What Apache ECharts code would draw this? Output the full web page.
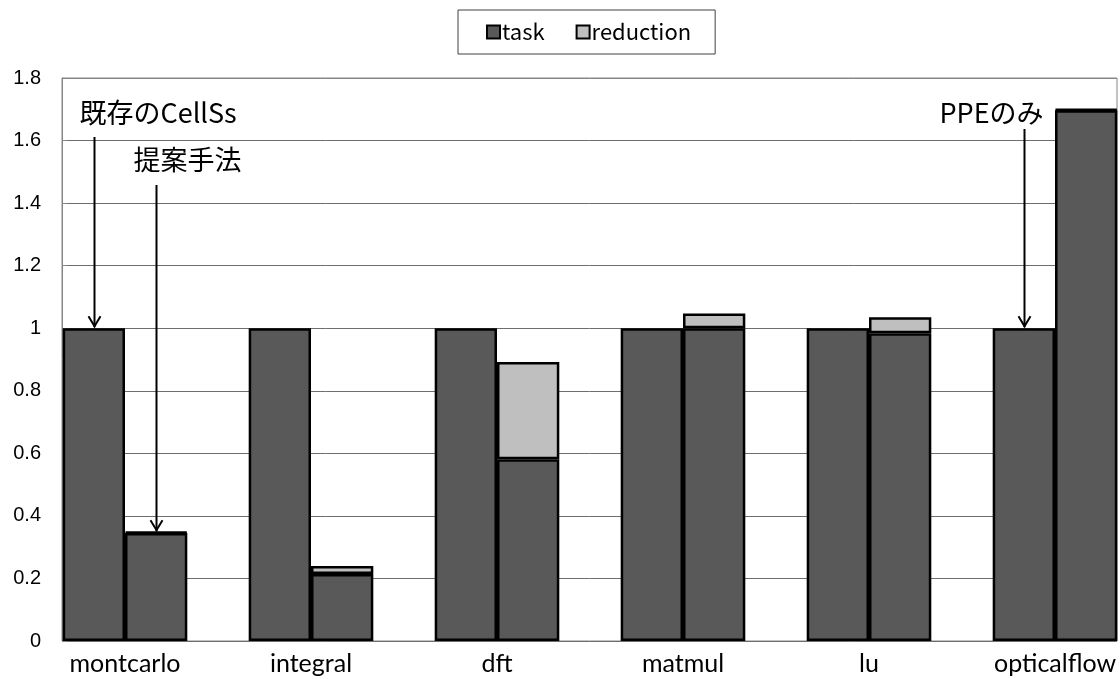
<!DOCTYPE html>
<html>
<head>
<meta charset="utf-8">
<script src="https://cdn.jsdelivr.net/npm/echarts@6/dist/echarts.min.js"></script>
<style>
html,body{margin:0;padding:0;background:#fff;}
#chart{width:1120px;height:679px;}
</style>
</head>
<body>
<div id="chart"></div>
<script>
// ---- data ----
var categories = ['montcarlo', 'integral', 'dft', 'matmul', 'lu', 'opticalflow'];
// existing CellSs / PPE-only bars
var existingTask = [1.0, 1.0, 1.0, 1.0, 1.0, 1.0];
var existingReduction = [0, 0, 0, 0, 0, 0];
// proposed method bars
var proposedTask = [0.345, 0.214, 0.581, 1.0, 0.984, 1.697];
var proposedReduction = [0.003, 0.026, 0.311, 0.047, 0.051, 0.003];
var yTicks = [0, 0.2, 0.4, 0.6, 0.8, 1, 1.2, 1.4, 1.6, 1.8];
var legendNames = ['task', 'reduction'];
// annotations: text, category index, which bar (0 existing, 1 proposed), arrow tip value
var annotations = [
  {text: '既存のCellSs', cat: 0, bar: 0, tip: 1.0},
  {text: '提案手法', cat: 0, bar: 1, tip: 0.348},
  {text: 'PPEのみ', cat: 5, bar: 0, tip: 1.0}
];

var TASK_COLOR = '#595959', RED_COLOR = '#bfbfbf';
var latin = 'Lato, "Noto Sans CJK JP", sans-serif';
var cjk = '"Noto Sans CJK JP", sans-serif';
var GAP = 0.33;

function nz(a){ return a.map(function(v){ return v === 0 ? null : v; }); }

var chart = echarts.init(document.getElementById('chart'), null, {renderer: 'canvas'});

var gridColors = yTicks.map(function(v, i){ return i === yTicks.length - 1 ? '#868686' : '#6e6e6e'; });

var barStyle = function(c){ return {color: c, borderColor: '#000', borderWidth: 2.5}; };
var YMIN = yTicks[0], YMAX = yTicks[yTicks.length - 1], YINT = yTicks[1] - yTicks[0];

var option = {
  animation: false,
  backgroundColor: '#fff',
  legend: {
    data: legendNames,
    top: 10,
    left: 458,
    icon: 'rect',
    itemWidth: 13,
    itemHeight: 13,
    itemGap: 31,
    padding: [11, 24, 11, 28],
    borderColor: '#404040',
    borderWidth: 1,
    textStyle: {fontFamily: cjk, fontSize: 22, color: '#000', padding: [0, 0, 0, -3]},
    itemStyle: {borderColor: '#000', borderWidth: 2}
  },
  grid: [
    // visible frame
    {left: 62, right: 3, top: 78, bottom: 38, show: true, borderColor: '#868686', borderWidth: 1, outerBoundsMode: 'none'},
    // bars layout grid (groups touch the frame edges)
    {left: 32, width: 1116, top: 78, bottom: 38, show: false, outerBoundsMode: 'none'}
  ],
  xAxis: [
    {type: 'value', gridIndex: 0, min: 0, max: 1, show: false},
    {
      type: 'category', gridIndex: 1,
      data: categories,
      axisLine: {show: false},
      axisTick: {show: false},
      axisLabel: {fontFamily: latin, fontSize: 25, color: '#000', margin: 10},
      splitLine: {show: false}
    }
  ],
  yAxis: [
    {
      type: 'value', gridIndex: 0,
      min: YMIN, max: YMAX, interval: YINT,
      axisLine: {show: true, lineStyle: {color: '#868686'}},
      axisTick: {show: true, inside: true, length: 5, lineStyle: {color: '#868686'}},
      axisLabel: {fontFamily: '"Liberation Sans", Arial, sans-serif', fontSize: 20, color: '#000', margin: 21,
        formatter: function(v){ return String(Math.round(v * 10) / 10); }},
      splitLine: {show: true, lineStyle: {color: gridColors, width: 1}}
    },
    {type: 'value', gridIndex: 1, min: YMIN, max: YMAX, interval: YINT, show: false, splitLine: {show: false}}
  ],
  series: [
    {name: 'task', type: 'bar', xAxisIndex: 1, yAxisIndex: 1, stack: 'existing', data: existingTask, itemStyle: barStyle(TASK_COLOR), barGap: '0%', barCategoryGap: (GAP * 100) + '%'},
    {name: 'reduction', type: 'bar', xAxisIndex: 1, yAxisIndex: 1, stack: 'existing', data: nz(existingReduction), itemStyle: barStyle(RED_COLOR), barGap: '0%', barCategoryGap: (GAP * 100) + '%'},
    {name: 'task', type: 'bar', xAxisIndex: 1, yAxisIndex: 1, stack: 'proposed', data: proposedTask, itemStyle: barStyle(TASK_COLOR), barGap: '0%', barCategoryGap: (GAP * 100) + '%'},
    {name: 'reduction', type: 'bar', xAxisIndex: 1, yAxisIndex: 1, stack: 'proposed', data: nz(proposedReduction), itemStyle: barStyle(RED_COLOR), barGap: '0%', barCategoryGap: (GAP * 100) + '%'}
  ]
};
chart.setOption(option);

// annotation arrows computed from axes
function drawAnnotations(){
  var finder = {xAxisIndex: 1, yAxisIndex: 1};
  var p0 = chart.convertToPixel(finder, [0, 0]);
  var p1 = chart.convertToPixel(finder, [1, 0]);
  var band = p1[0] - p0[0];
  var barW = band * (1 - GAP) / 2;
  var yTop = chart.convertToPixel({yAxisIndex: 0}, YMAX);
  var els = [];
  // per-annotation text placement (pixels relative to the arrow)
  var layout = [
    {dx: -15, textY: yTop + 35, startY: yTop + 59},
    {dx: -23, textY: yTop + 82, startY: yTop + 107},
    {dx: -85, textY: yTop + 35, startY: yTop + 51}
  ];
  annotations.forEach(function(a, i){
    var c = chart.convertToPixel(finder, [a.cat, a.tip]);
    var x = Math.round(c[0] + (a.bar === 0 ? -barW / 2 : barW / 2)) + 0.5;
    var tipY = c[1] - 1;
    var L = layout[i];
    els.push({type: 'line', shape: {x1: x, y1: L.startY, x2: x, y2: tipY}, style: {stroke: '#000', lineWidth: 2}, z: 100});
    els.push({type: 'polyline', shape: {points: [[x - 6, tipY - 11], [x, tipY - 1], [x + 6, tipY - 11]]}, style: {stroke: '#000', lineWidth: 2, fill: null}, z: 100});
    els.push({type: 'text', x: x + L.dx, y: L.textY, style: {text: a.text, font: '27px ' + cjk, fill: '#000', verticalAlign: 'middle'}, z: 100});
  });
  chart.setOption({graphic: {elements: els}});
}
drawAnnotations();
</script>
</body>
</html>
